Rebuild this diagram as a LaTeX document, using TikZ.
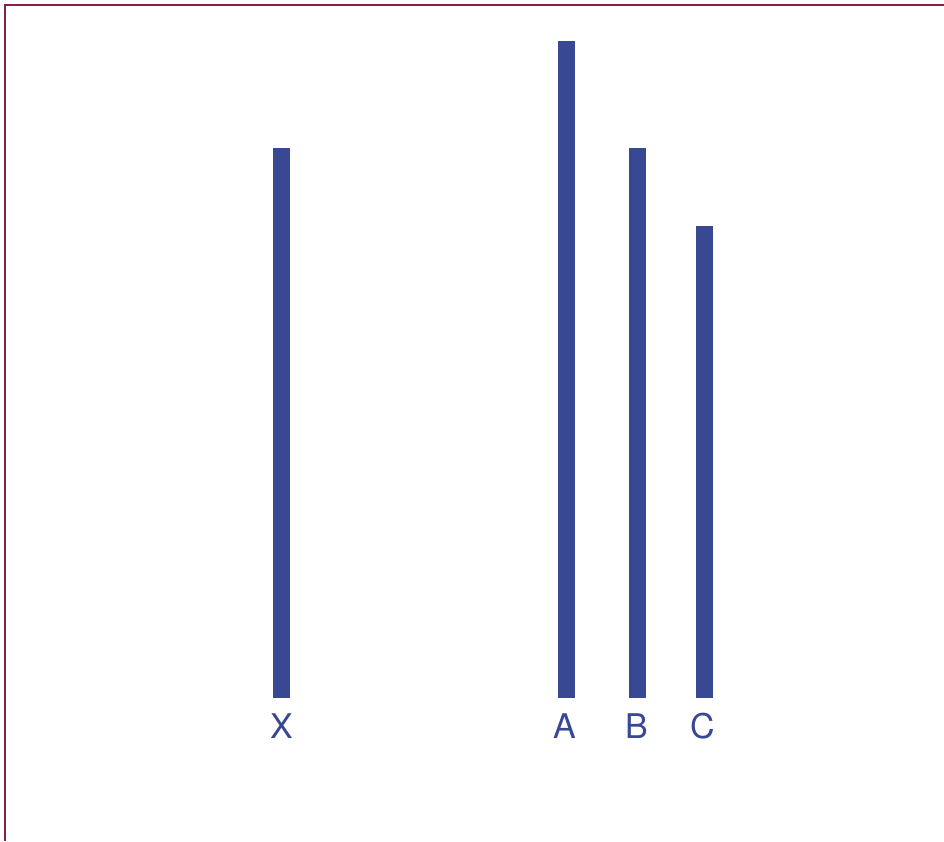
\documentclass[tikz,border=0pt]{standalone}
\usepackage{fontspec}
\setmainfont{TeX Gyre Heros}
\definecolor{barblue}{HTML}{384893}
\definecolor{frame}{HTML}{8E1E42}
\begin{document}
\begin{tikzpicture}[x=1pt,y=-1pt,
  bar/.style={fill=barblue, draw=none, inner sep=0pt, minimum width=17pt, anchor=south},
  lbl/.style={text=barblue, font=\fontsize{34}{34}\selectfont, inner sep=0pt, anchor=base}]
\useasboundingbox (0,0) rectangle (944,841);
\fill[white] (0,0) rectangle (944,841);
\draw[frame, line width=2pt] (4.5,841) -- (4.5,4.5) -- (944,4.5);
\node[bar, minimum height=550pt] (X) at (281.5,698) {};
\node[bar, minimum height=657pt] (A) at (566.5,698) {};
\node[bar, minimum height=550pt] (B) at (637.5,698) {};
\node[bar, minimum height=472pt] (C) at (704.5,698) {};
\node[lbl] (lx) at (281.5,738) {X};
\node[lbl] (la) at (565,738) {A};
\node[lbl] (lb) at (636.5,738) {B};
\node[lbl] (lc) at (703,738) {C};
\end{tikzpicture}
\end{document}
